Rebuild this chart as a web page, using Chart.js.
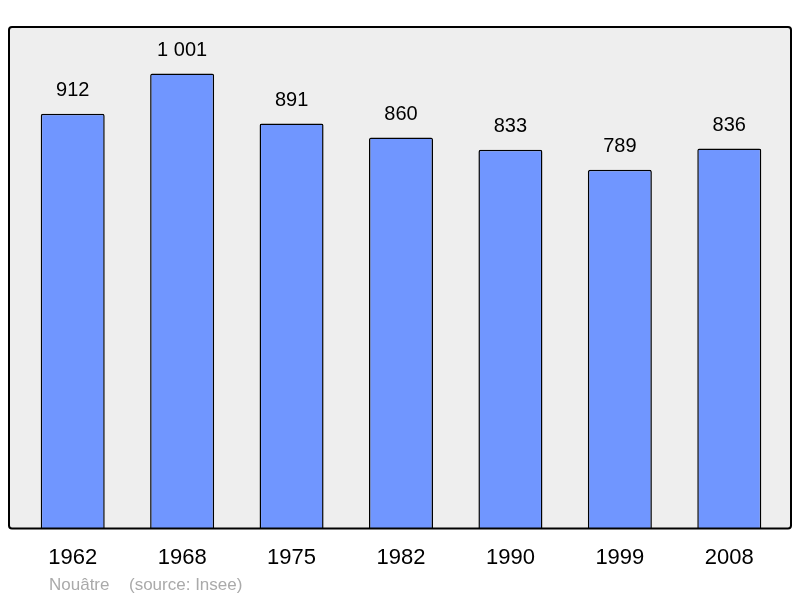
<!DOCTYPE html>
<html>
<head>
<meta charset="utf-8">
<script src="https://cdn.jsdelivr.net/npm/chart.js@4"></script>
<style>
  body { margin: 0; background: #ffffff; }
  #wrap { width: 800px; height: 598px; }
</style>
</head>
<body>
<div id="wrap"><canvas id="chart"></canvas></div>
<script>
// Data
const years = ['1962', '1968', '1975', '1982', '1990', '1999', '2008'];
const population = [912, 1001, 891, 860, 833, 789, 836];
const sourceLabels = ['Nouâtre', '(source: Insee)'];

// Format with space as thousands separator
function formatValue(v) {
    return String(v).replace(/\B(?=(\d{3})+(?!\d))/g, ' ');
}

// Gray framed panel behind the bars
const panelPlugin = {
    id: 'panel',
    beforeDraw(chart) {
        const { ctx, chartArea } = chart;
        const x = chartArea.left - 9;
        const y = chartArea.top;
        const w = chartArea.right - chartArea.left + 16;
        const h = chartArea.bottom - chartArea.top;
        ctx.save();
        ctx.beginPath();
        ctx.roundRect(x, y, w, h, 3);
        ctx.fillStyle = '#eeeeee';
        ctx.fill();
        ctx.restore();
    },
    afterDatasetsDraw(chart) {
        const { ctx, chartArea } = chart;
        const x = chartArea.left - 9;
        const y = chartArea.top;
        const w = chartArea.right - chartArea.left + 16;
        const h = chartArea.bottom - chartArea.top;
        ctx.save();
        ctx.beginPath();
        ctx.roundRect(x, y, w, h, 3);
        ctx.lineWidth = 2;
        ctx.strokeStyle = '#000000';
        ctx.stroke();
        ctx.restore();
    }
};

// Values above bars and source line
const labelsPlugin = {
    id: 'valueLabels',
    afterDraw(chart) {
        const { ctx, chartArea } = chart;
        const meta = chart.getDatasetMeta(0);
        ctx.save();
        ctx.font = '20px "Liberation Sans", Arial, sans-serif';
        ctx.fillStyle = '#000000';
        ctx.textAlign = 'center';
        ctx.textBaseline = 'middle';
        meta.data.forEach((bar, i) => {
            ctx.fillText(formatValue(population[i]), bar.x, bar.y - 23);
        });
        ctx.font = '17px "Liberation Sans", Arial, sans-serif';
        ctx.fillStyle = '#aaaaaa';
        ctx.textAlign = 'left';
        ctx.fillText(sourceLabels[0], 49, chartArea.bottom + 57);
        ctx.fillText(sourceLabels[1], 129, chartArea.bottom + 57);
        ctx.restore();
    }
};

new Chart(document.getElementById('chart'), {
    type: 'bar',
    data: {
        labels: years,
        datasets: [{
            data: population,
            backgroundColor: '#7096ff',
            borderColor: '#000000',
            borderWidth: 1.5,
            borderRadius: { topLeft: 2, topRight: 2 },
            borderSkipped: 'bottom',
            categoryPercentage: 1,
            barPercentage: 0.585
        }]
    },
    options: {
        responsive: true,
        maintainAspectRatio: false,
        animation: false,
        devicePixelRatio: 1,
        layout: {
            padding: { left: 18, right: 16, top: 27, bottom: 11 }
        },
        plugins: {
            legend: { display: false },
            tooltip: { enabled: false }
        },
        scales: {
            x: {
                grid: { display: false, drawTicks: false },
                border: { display: false },
                ticks: {
                    color: '#000000',
                    padding: 16,
                    font: { family: '"Liberation Sans", Arial, sans-serif', size: 22 }
                }
            },
            y: {
                display: false,
                min: 0,
                max: 1103
            }
        }
    },
    plugins: [panelPlugin, labelsPlugin]
});
</script>
</body>
</html>
